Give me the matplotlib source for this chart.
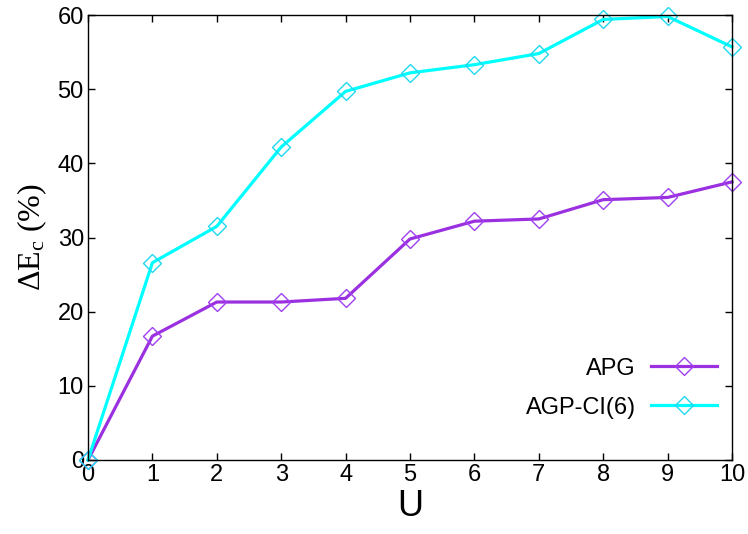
import numpy as np
import matplotlib
matplotlib.use("Agg")
import matplotlib.pyplot as plt

plt.rcParams['font.family'] = ['Liberation Sans', 'DejaVu Sans']
plt.rcParams['mathtext.fontset'] = 'custom'
plt.rcParams['mathtext.rm'] = 'Liberation Serif'
plt.rcParams['mathtext.it'] = 'Liberation Serif:italic'

U = np.arange(0, 11)
apg = [0, 16.7, 21.3, 21.3, 21.8, 29.8, 32.2, 32.5, 35.1, 35.4, 37.5]
agp_ci6 = [0, 26.6, 31.5, 42.2, 49.7, 52.2, 53.3, 54.8, 59.4, 59.8, 55.7]

fig = plt.figure(figsize=(7.48, 5.34), dpi=100)
ax = fig.add_axes([88 / 748, 74 / 534, 644 / 748, 445 / 534])

ax.plot(U, apg, color='#9b30e0', lw=2.3, marker='D', ms=8.7,
        mfc='none', mec='#a040f0', mew=1.0, label='APG', clip_on=False)
ax.plot(U, agp_ci6, color='#00ffff', lw=2.3, marker='D', ms=8.7,
        mfc='none', mec='#20d8f0', mew=1.0, label='AGP-CI(6)', clip_on=False)

ax.set_xlim(0, 10)
ax.set_ylim(0, 60)
ax.set_xticks(range(0, 11))
ax.set_yticks(range(0, 61, 10))
ax.tick_params(direction='in', top=True, right=True, labelsize=17,
               length=5, width=1, pad=3)
for s in ax.spines.values():
    s.set_linewidth(1.0)

ax.set_xlabel('U', fontsize=26, labelpad=2)
ax.set_ylabel(r'$\Delta$E$_\mathrm{c}$ (%)', fontsize=23, labelpad=6,
              family='Liberation Serif')

ax.legend(loc='lower right', bbox_to_anchor=((717 - 88) / 644, 0.093),
          frameon=False, markerfirst=False, fontsize=17, handlelength=2.8,
          handletextpad=0.64, labelspacing=0.72, borderpad=0, borderaxespad=0)

fig.savefig('out.png', dpi=100)
